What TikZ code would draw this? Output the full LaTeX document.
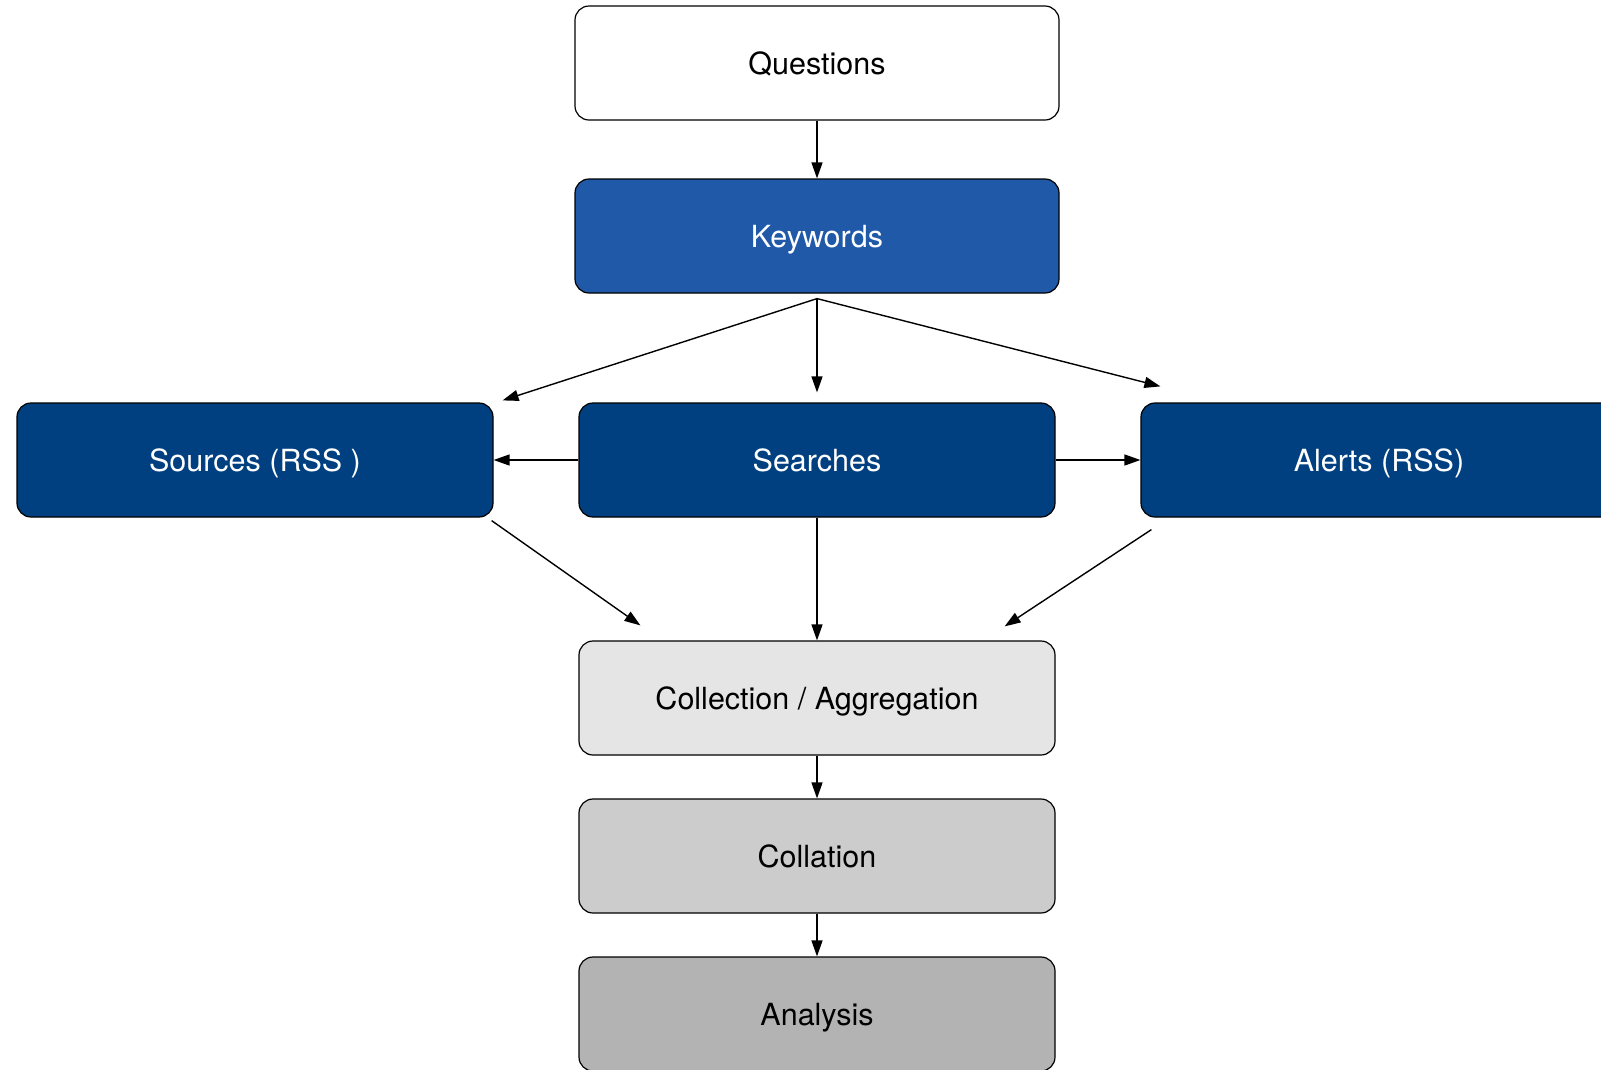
\documentclass[tikz,border=0pt]{standalone}
\usepackage{fontspec}
\setmainfont{TeX Gyre Heros}
\usetikzlibrary{arrows.meta}
\definecolor{kwblue}{RGB}{31,89,168}
\definecolor{navy}{RGB}{0,64,128}
\definecolor{grayA}{RGB}{229,229,229}
\definecolor{grayB}{RGB}{204,204,204}
\definecolor{grayC}{RGB}{179,179,179}
\tikzset{
  box/.style={draw=black, line width=1.2pt, rounded corners=14pt,
    minimum height=114pt, inner sep=0pt,
    text height=22pt, text depth=0pt,
    font=\fontsize{30.5}{36}\selectfont},
  wide/.style={box, minimum width=484pt},
  mid/.style={box, minimum width=476pt},
  flow/.style={draw=black, line width=1.4pt, -{Triangle[length=16pt,width=11pt]}}
}
\begin{document}
\begin{tikzpicture}[x=1pt,y=-1pt]
  \useasboundingbox (0,0) rectangle (1601,1069);
  \clip (0,0) rectangle (1601,1069);

  % stages
  \node[wide, fill=white] (q) at (817,63) {Questions};
  \node[wide, fill=kwblue, text=white] (kw) at (817,236) {Keywords};
  \node[mid, fill=navy, text=white] (src) at (255,460) {Sources (RSS )};
  \node[mid, fill=navy, text=white] (srch) at (817,460) {Searches};
  \node[mid, fill=navy, text=white] (alr) at (1379,460) {Alerts (RSS)};
  \node[mid, fill=grayA] (col) at (817,698) {Collection / Aggregation};
  \node[mid, fill=grayB] (cln) at (817,856) {Collation};
  \node[mid, fill=grayC] (ana) at (817,1014) {Analysis};

  % arrow end points
  \coordinate (kwfoot) at ([yshift=-5pt]kw.south);
  \coordinate (srcin) at ([shift={(9pt,2pt)}]src.north east);
  \coordinate (srchin) at ([yshift=10pt]srch.north);
  \coordinate (alrin) at ([shift={(20pt,16pt)}]alr.north west);
  \coordinate (srcout) at ([shift={(-2pt,-3pt)}]src.south east);
  \coordinate (alrout) at ([shift={(11pt,-12pt)}]alr.south west);
  \coordinate (colinL) at ([shift={(62pt,15pt)}]col.north west);
  \coordinate (colinR) at ([shift={(-51pt,14pt)}]col.north east);

  % connectors
  \draw[flow] (q.south) -- (kw.north);
  \draw[flow] (kwfoot) -- (srcin);
  \draw[flow] (kwfoot) -- (srchin);
  \draw[flow] (kwfoot) -- (alrin);
  \draw[flow] (srch.west) -- (src.east);
  \draw[flow] (srch.east) -- (alr.west);
  \draw[flow] (srcout) -- (colinL);
  \draw[flow] (srch.south) -- (col.north);
  \draw[flow] (alrout) -- (colinR);
  \draw[flow] (col.south) -- (cln.north);
  \draw[flow] (cln.south) -- (ana.north);
\end{tikzpicture}
\end{document}
